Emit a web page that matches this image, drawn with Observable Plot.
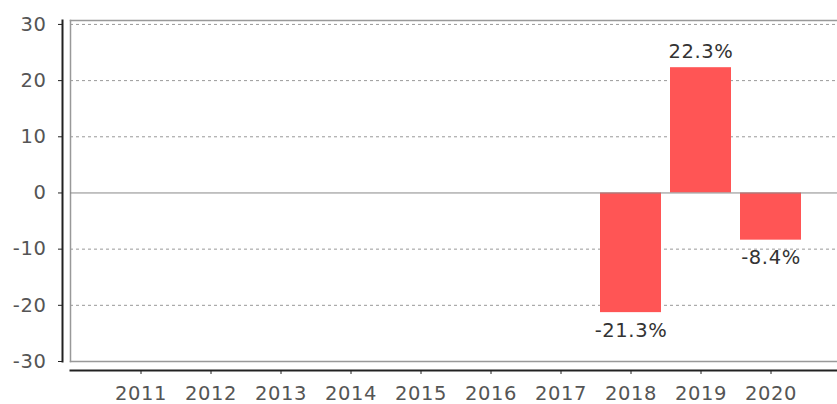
<!DOCTYPE html>
<html>
<head>
<meta charset="utf-8">
<script src="https://cdn.jsdelivr.net/npm/d3@7"></script>
<script src="https://cdn.jsdelivr.net/npm/@observablehq/plot@0.6"></script>
<style>
  html, body { margin: 0; padding: 0; background: #fff; }
  svg { display: block; }
</style>
</head>
<body>
<div id="chart"></div>
<script>
const years = ["2011","2012","2013","2014","2015","2016","2017","2018","2019","2020"];
const values = [null, null, null, null, null, null, null, -21.3, 22.3, -8.4];
const labels = ["", "", "", "", "", "", "", "-21.3%", "22.3%", "-8.4%"];
const yTicks = [-30, -20, -10, 0, 10, 20, 30];

const data = years.map((y, i) => ({year: y, value: values[i], label: labels[i]})).filter(d => d.value != null);
const pos = data.filter(d => d.value >= 0);
const neg = data.filter(d => d.value < 0);
const font = "DejaVu Sans, sans-serif";

const chart = Plot.plot({
  width: 837,
  height: 404,
  marginLeft: 70,
  marginRight: 0,
  marginTop: 20,
  marginBottom: 43,
  style: {fontFamily: font, fontSize: "19.5px", color: "#444", background: "#fff", letterSpacing: "0.6px"},
  x: {type: "band", domain: years, range: [103, 807], paddingInner: 0.13, paddingOuter: 0.065},
  y: {domain: [-30, 30.7]},
  marks: [
    Plot.ruleY(yTicks.filter(t => t !== 0), {stroke: "#999", strokeWidth: 1, strokeDasharray: "3,3"}),
    Plot.frame({anchor: "top", stroke: "#999", strokeWidth: 1.5}),
    Plot.frame({anchor: "left", stroke: "#999", strokeWidth: 1.5}),
    Plot.frame({anchor: "bottom", stroke: "#999", strokeWidth: 1.5}),
    Plot.barY(data, {x: "year", y: "value", fill: "#ff5555"}),
    Plot.ruleY([0], {stroke: "#888", strokeWidth: 1}),
    Plot.text(pos, {x: "year", y: "value", text: "label", fill: "#333", fontSize: 19.5, dy: -16}),
    Plot.text(neg, {x: "year", y: "value", text: "label", fill: "#333", fontSize: 19.5, dy: 18}),
    Plot.frame({anchor: "left", stroke: "#222", strokeWidth: 2, dx: -8}),
    Plot.axisY({ticks: yTicks, tickFormat: d => String(d), tickSize: 4, tickPadding: 12, dx: -8, label: null, stroke: "#222", fill: "#555", fontSize: 19.5}),
    Plot.frame({anchor: "bottom", stroke: "#222", strokeWidth: 2, dy: 9}),
    Plot.axisX({tickSize: 4, tickPadding: 12, dy: 9, label: null, stroke: "#222", fill: "#555", fontSize: 19.5})
  ]
});
document.getElementById("chart").appendChild(chart);
</script>
</body>
</html>
